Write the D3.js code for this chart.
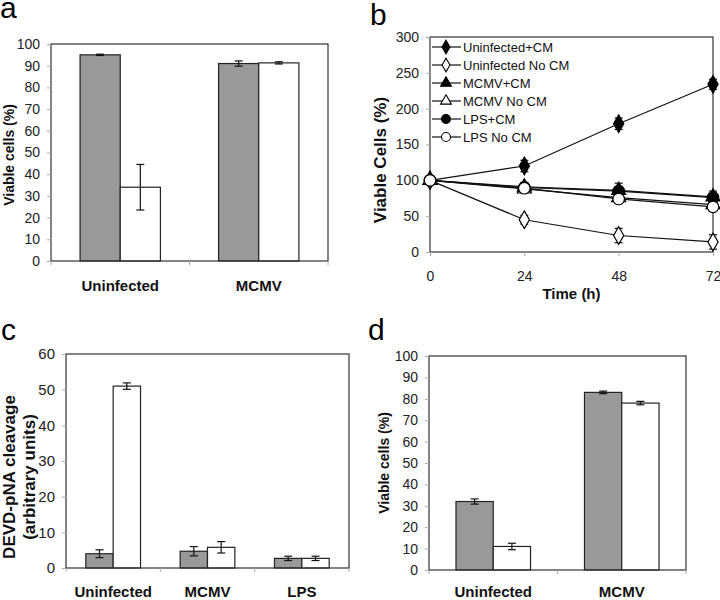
<!DOCTYPE html>
<html>
<head>
<meta charset="utf-8">
<script src="https://cdn.jsdelivr.net/npm/d3@7"></script>
<style>
  body { margin: 0; background: #fff; }
  text { font-family: Arial, "Liberation Sans", sans-serif; }
</style>
</head>
<body>
<div id="chart"></div>
<script>
// panel a: viable cells, two conditions
const catsA = ["Uninfected", "MCMV"];
const grayA = [95, 91];
const grayErrA = [0.3, 1.2];
const whiteA = [34, 91.3];
const whiteErrA = [10.5, 0.5];

// panel b: viable cells over time
const timesB = [0, 24, 48, 72];
const namesB = ["Uninfected+CM", "Uninfected No CM", "MCMV+CM", "MCMV No CM", "LPS+CM", "LPS No CM"];
const uninfCM = [100, 120, 179, 234];
const uninfCMErr = [0, 8, 8, 7];
const uninfNoCM = [100, 45, 23, 14];
const uninfNoCMErr = [0, 6, 10, 10];
const mcmvCM = [100, 91, 86, 77];
const mcmvCMErr = [0, 6, 10, 8];
const mcmvNoCM = [100, 88, 76, 66];
const mcmvNoCMErr = [0, 5, 4, 6];
const lpsCM = [100, 90, 85, 76];
const lpsCMErr = [0, 5, 5, 6];
const lpsNoCM = [100, 89, 74, 63];
const lpsNoCMErr = [0, 5, 4, 6];

// panel c: DEVD-pNA cleavage
const catsC = ["Uninfected", "MCMV", "LPS"];
const grayC = [4, 4.7, 2.7];
const grayErrC = [1.1, 1.3, 0.6];
const whiteC = [51, 5.8, 2.7];
const whiteErrC = [0.9, 1.6, 0.6];

// panel d: viable cells
const catsD = ["Uninfected", "MCMV"];
const grayD = [32, 83];
const grayErrD = [1.2, 0.6];
const whiteD = [11, 78];
const whiteErrD = [1.5, 0.8];

const FONT = "Arial, 'Liberation Sans', sans-serif";

var svg = d3.select("#chart")
  .append("svg")
  .attr("width", 720)
  .attr("height", 600);

// panel letter
function panelLabel(x, y, txt) {
  svg.append("text")
    .attr("x", x)
    .attr("y", y)
    .style("font-size", "30px")
    .text(txt);
}

function drawFrame(box) {
  svg.append("rect")
    .attr("x", box.left)
    .attr("y", box.top)
    .attr("width", box.right - box.left)
    .attr("height", box.bottom - box.top)
    .attr("fill", "none")
    .attr("stroke", "#333")
    .attr("stroke-width", 1.2);
}

function yAxis(y, box, ticks, fontSize) {
  var g = svg.append("g")
    .attr("transform", "translate(" + box.left + ",0)")
    .call(d3.axisLeft(y).tickValues(ticks).tickSize(4).tickPadding(7));
  g.select(".domain").remove();
  g.selectAll("line").attr("stroke", "#aaa");
  g.selectAll("text")
    .style("font-family", FONT)
    .style("font-size", fontSize + "px")
    .attr("fill", "#222");
}

function errorBar(x, y, v, e, cap) {
  if (!e) return;
  var g = svg.append("g").attr("stroke", "#111").attr("stroke-width", 1.2);
  g.append("line").attr("x1", x).attr("x2", x).attr("y1", y(v - e)).attr("y2", y(v + e));
  g.append("line").attr("x1", x - cap).attr("x2", x + cap).attr("y1", y(v - e)).attr("y2", y(v - e));
  g.append("line").attr("x1", x - cap).attr("x2", x + cap).attr("y1", y(v + e)).attr("y2", y(v + e));
}

// grouped bar panel (gray / white pairs)
function drawBarPanel(box, cats, series, yMax, step, opts) {
  var x = d3.scaleBand().domain(cats).range([box.left, box.right]);
  var y = d3.scaleLinear().domain([0, yMax]).range([box.bottom, box.top]);
  var sub = d3.scaleBand()
    .domain(series.map((s, i) => i))
    .range([x.bandwidth() * 0.21, x.bandwidth() * 0.79]);

  // bars
  series.forEach((s, i) => {
    svg.selectAll(null)
      .data(cats)
      .enter()
      .append("rect")
      .attr("x", (d) => x(d) + sub(i))
      .attr("y", (d, j) => y(s.vals[j]))
      .attr("width", sub.bandwidth())
      .attr("height", (d, j) => box.bottom - y(s.vals[j]))
      .attr("fill", s.fill)
      .attr("stroke", "#222")
      .attr("stroke-width", 1.2);
  });
  series.forEach((s, i) => {
    cats.forEach((c, j) => {
      errorBar(x(c) + sub(i) + sub.bandwidth() / 2, y, s.vals[j], s.errs[j], 4);
    });
  });

  drawFrame(box);
  yAxis(y, box, d3.range(0, yMax + 1, step), opts.tickFont);

  // ticks between categories
  var edges = cats.map((c) => x(c)).concat([x.range()[1]]);
  svg.selectAll(null)
    .data(edges)
    .enter()
    .append("line")
    .attr("x1", (d) => d).attr("x2", (d) => d)
    .attr("y1", box.bottom).attr("y2", box.bottom + 4)
    .attr("stroke", "#aaa");

  // category labels
  var gx = svg.append("g")
    .attr("transform", "translate(0," + box.bottom + ")")
    .call(d3.axisBottom(x).tickSize(0).tickPadding(opts.labelPad));
  gx.select(".domain").remove();
  gx.selectAll("text")
    .style("font-family", FONT)
    .style("font-size", "15px")
    .style("font-weight", "bold")
    .attr("fill", "#111");

  // y title
  var t = svg.append("text")
    .attr("transform", "translate(" + opts.titleX + "," + opts.titleY + ")rotate(-90)")
    .style("text-anchor", "middle")
    .style("font-size", opts.titleFont + "px")
    .style("font-weight", "bold")
    .attr("fill", "#111");
  opts.title.forEach((line, k) => {
    t.append("tspan").attr("x", 0).attr("y", k * opts.lineGap).text(line);
  });
}

// ---- panel a
panelLabel(0, 18, "a");
drawBarPanel({ left: 51, right: 328, top: 44, bottom: 261 }, catsA,
  [{ vals: grayA, errs: grayErrA, fill: "#999" }, { vals: whiteA, errs: whiteErrA, fill: "#fff" }],
  100, 10, { tickFont: 14, title: ["Viable cells (%)"], titleX: 14, titleY: 155, titleFont: 14, lineGap: 0, labelPad: 19 });

// ---- panel c
panelLabel(1, 340, "c");
drawBarPanel({ left: 66, right: 349, top: 354, bottom: 568 }, catsC,
  [{ vals: grayC, errs: grayErrC, fill: "#999" }, { vals: whiteC, errs: whiteErrC, fill: "#fff" }],
  60, 10, { tickFont: 15, title: ["DEVD-pNA cleavage", "(arbitrary units)"], titleX: 15, titleY: 477, titleFont: 17, lineGap: 20, labelPad: 18 });

// ---- panel d
panelLabel(368, 340, "d");
drawBarPanel({ left: 429, right: 686, top: 356, bottom: 570 }, catsD,
  [{ vals: grayD, errs: grayErrD, fill: "#999" }, { vals: whiteD, errs: whiteErrD, fill: "#fff" }],
  100, 10, { tickFont: 14, title: ["Viable cells (%)"], titleX: 389, titleY: 463, titleFont: 14, lineGap: 0, labelPad: 16 });

// ---- panel b (line chart)
panelLabel(370, 25, "b");
var boxB = { left: 430, right: 713, top: 37, bottom: 252 };
var xB = d3.scaleLinear().domain([0, 72]).range([boxB.left, boxB.right]);
var yB = d3.scaleLinear().domain([0, 300]).range([boxB.bottom, boxB.top]);

var seriesB = [
  { name: namesB[0], vals: uninfCM, errs: uninfCMErr, shape: d3.symbolDiamond, fill: "#000" },
  { name: namesB[1], vals: uninfNoCM, errs: uninfNoCMErr, shape: d3.symbolDiamond, fill: "#fff" },
  { name: namesB[2], vals: mcmvCM, errs: mcmvCMErr, shape: d3.symbolTriangle, fill: "#000" },
  { name: namesB[3], vals: mcmvNoCM, errs: mcmvNoCMErr, shape: d3.symbolTriangle, fill: "#fff" },
  { name: namesB[4], vals: lpsCM, errs: lpsCMErr, shape: d3.symbolCircle, fill: "#000" },
  { name: namesB[5], vals: lpsNoCM, errs: lpsNoCMErr, shape: d3.symbolCircle, fill: "#fff" }
];
function sizeOf(shape) {
  if (shape === d3.symbolDiamond) return 90;
  if (shape === d3.symbolTriangle) return 85;
  return 105;
}

var line = d3.line().x((d, i) => xB(timesB[i])).y((d) => yB(d));

drawFrame(boxB);
yAxis(yB, boxB, d3.range(0, 301, 50), 14);

// x axis ticks and labels
var gxB = svg.append("g")
  .attr("transform", "translate(0," + boxB.bottom + ")")
  .call(d3.axisBottom(xB).tickValues(timesB).tickSize(4).tickPadding(15));
gxB.select(".domain").remove();
gxB.selectAll("line").attr("stroke", "#aaa");
gxB.selectAll("text")
  .style("font-family", FONT)
  .style("font-size", "14px")
  .attr("fill", "#222");

seriesB.forEach((s) => {
  svg.append("path")
    .datum(s.vals)
    .attr("d", line)
    .attr("fill", "none")
    .attr("stroke", "#111")
    .attr("stroke-width", 1.2);
});
seriesB.forEach((s) => {
  s.vals.forEach((v, i) => errorBar(xB(timesB[i]), yB, v, s.errs[i], 4));
});
seriesB.forEach((s) => {
  svg.selectAll(null)
    .data(s.vals)
    .enter()
    .append("path")
    .attr("transform", (d, i) => "translate(" + xB(timesB[i]) + "," + yB(d) + ")")
    .attr("d", d3.symbol().type(s.shape).size(sizeOf(s.shape)))
    .attr("fill", s.fill)
    .attr("stroke", "#000")
    .attr("stroke-width", 1.2);
});

// legend
var leg = svg.append("g").attr("transform", "translate(432,47)");
seriesB.forEach((s, i) => {
  var row = leg.append("g").attr("transform", "translate(0," + i * 18 + ")");
  row.append("line").attr("x1", 0).attr("x2", 29).attr("stroke", "#111").attr("stroke-width", 1.2);
  row.append("path")
    .attr("transform", "translate(14,0)")
    .attr("d", d3.symbol().type(s.shape).size(sizeOf(s.shape) * 0.6))
    .attr("fill", s.fill)
    .attr("stroke", "#000")
    .attr("stroke-width", 1.1);
  row.append("text")
    .attr("x", 31)
    .attr("dy", "0.35em")
    .style("font-size", "13px")
    .attr("fill", "#111")
    .text(s.name);
});

// axis titles for b
svg.append("text")
  .attr("x", (boxB.left + boxB.right) / 2)
  .attr("y", 299)
  .style("text-anchor", "middle")
  .style("font-size", "15px")
  .style("font-weight", "bold")
  .attr("fill", "#111")
  .text("Time (h)");

svg.append("text")
  .attr("transform", "translate(386,160)rotate(-90)")
  .style("text-anchor", "middle")
  .style("font-size", "17px")
  .style("font-weight", "bold")
  .attr("fill", "#111")
  .text("Viable Cells (%)");
</script>
</body>
</html>
